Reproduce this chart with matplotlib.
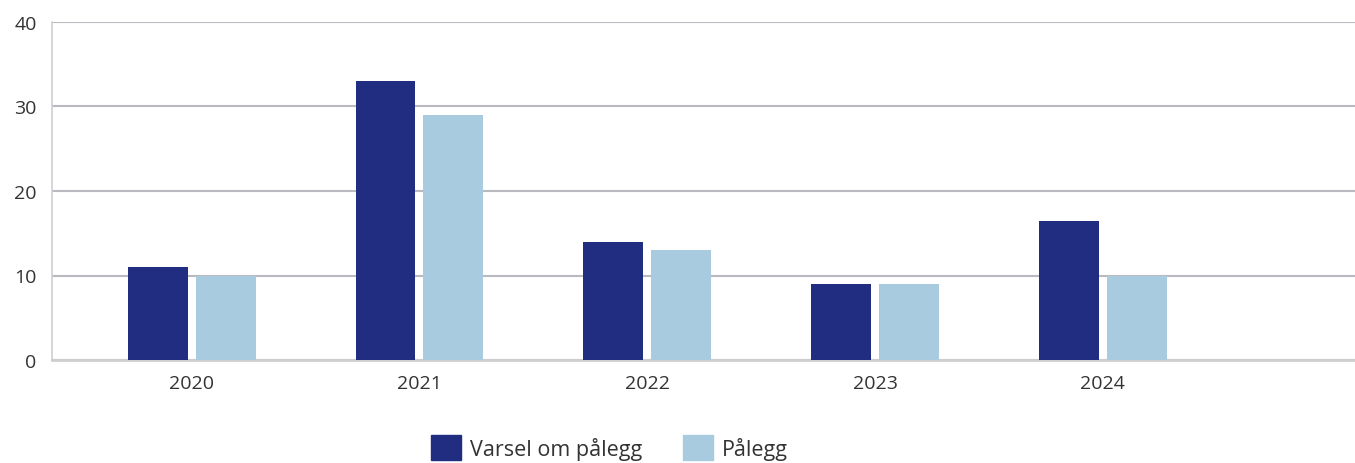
import numpy as np
import matplotlib
matplotlib.use('Agg')
import matplotlib.pyplot as plt
from matplotlib.patches import Patch

years = ['2020', '2021', '2022', '2023', '2024']
varsel = [11, 33, 14, 9, 16.5]
palegg = [10, 29, 13, 9, 10]

dark = '#212d80'
light = '#a9cbe0'

plt.rcParams['font.family'] = ['Open Sans', 'DejaVu Sans']

fig = plt.figure(figsize=(13.55, 4.64), dpi=100)
ax = fig.add_axes([52 / 1355, 1 - 361 / 464, 1 - 52 / 1355, (361 - 23) / 464])

x = np.arange(len(years))
w = 0.263
off = 0.149
ax.bar(x - off, varsel, width=w, color=dark, zorder=3)
ax.bar(x + off, palegg, width=w, color=light, zorder=3)

ax.set_xlim(-0.613, 5.107)
ax.set_ylim(0, 40)
ax.set_yticks([0, 10, 20, 30, 40])
ax.set_xticks(x)
ax.set_xticklabels(years)
ax.tick_params(axis='both', length=0, labelsize=14, labelcolor='#333333')
ax.tick_params(axis='y', pad=11)
ax.tick_params(axis='x', pad=10)
ax.yaxis.grid(True, color='#b9b9c0', linewidth=1.5, zorder=0)

for s in ['top', 'right']:
    ax.spines[s].set_visible(False)
ax.spines['left'].set_color('#cfcfcf')
ax.spines['left'].set_linewidth(1.2)
ax.spines['bottom'].set_color('#cfcfcf')
ax.spines['bottom'].set_linewidth(2)

handles = [Patch(color=dark), Patch(color=light)]
fig.legend(handles, ['Varsel om pålegg', 'Pålegg'], loc='upper left',
           bbox_to_anchor=(431 / 1355, 1 - 436 / 464), ncol=2, frameon=False,
           fontsize=15.5, borderpad=0, borderaxespad=0, handlelength=1.4,
           handleheight=1.4, handletextpad=0.4, columnspacing=1.9,
           labelcolor='#333333')

fig.savefig('out.png', dpi=100)
